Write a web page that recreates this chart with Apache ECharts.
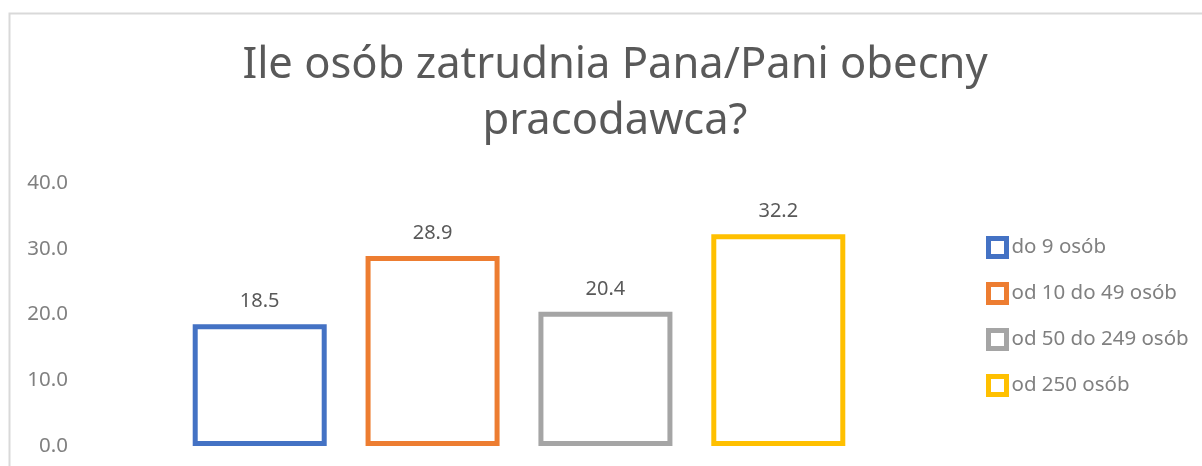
<!DOCTYPE html>
<html>
<head>
<meta charset="utf-8">
<script src="https://cdn.jsdelivr.net/npm/echarts@6/dist/echarts.min.js"></script>
<style>
  html, body { margin: 0; padding: 0; background: #fff; }
  #main { width: 1202px; height: 466px; }
</style>
</head>
<body>
<div id="main"></div>
<script>
// dane z wykresu
var titleText = 'Ile osób zatrudnia Pana/Pani obecny\npracodawca?';
var seriesNames = ['do 9 osób', 'od 10 do 49 osób', 'od 50 do 249 osób', 'od 250 osób'];
var seriesValues = [18.5, 28.9, 20.4, 32.2];
var seriesColors = ['#4472c4', '#ed7d31', '#a5a5a5', '#ffc000'];
var yTicks = [0, 10, 20, 30, 40];

var FONT = 'Noto Sans';
var chart = echarts.init(document.getElementById('main'));

var series = seriesNames.map(function (name, i) {
    return {
        name: name,
        type: 'bar',
        data: [seriesValues[i]],
        barWidth: 134,
        barGap: '29%',
        itemStyle: {
            color: '#ffffff',
            borderColor: seriesColors[i],
            borderWidth: 5
        },
        label: {
            show: true,
            position: 'top',
            distance: 13,
            color: '#595959',
            fontFamily: FONT,
            fontSize: 20,
            formatter: function (p) { return p.value.toFixed(1); }
        }
    };
});

chart.setOption({
    animation: false,
    backgroundColor: '#ffffff',
    title: {
        text: titleText,
        left: 610,
        textAlign: 'center',
        top: 33,
        textStyle: {
            fontFamily: FONT,
            fontWeight: 'normal',
            fontSize: 43.5,
            lineHeight: 56,
            color: '#595959'
        }
    },
    graphic: [{
        type: 'rect',
        shape: { x: 9.5, y: 13.5, width: 1400, height: 700 },
        style: { fill: 'none', stroke: '#d9d9d9', lineWidth: 2 },
        silent: true
    }],
    legend: {
        orient: 'vertical',
        left: 986,
        top: 236,
        padding: 0,
        icon: 'rect',
        itemWidth: 18,
        itemHeight: 18,
        itemGap: 23,
        itemStyle: { borderWidth: 5 },
        textStyle: {
            fontFamily: FONT,
            fontSize: 20.5,
            lineHeight: 22,
            color: '#808080'
        },
        data: seriesNames
    },
    grid: {
        left: 87,
        right: 251,
        top: 183,
        bottom: 20
    },
    xAxis: {
        type: 'category',
        data: [''],
        axisLine: { show: false },
        axisTick: { show: false },
        axisLabel: { show: false }
    },
    yAxis: {
        type: 'value',
        min: yTicks[0],
        max: yTicks[yTicks.length - 1],
        interval: 10,
        splitLine: { show: false },
        axisLine: { show: false },
        axisTick: { show: false },
        axisLabel: {
            margin: 19,
            color: '#808080',
            fontFamily: FONT,
            fontSize: 20.5,
            formatter: function (v) { return v.toFixed(1); }
        }
    },
    series: series
});
</script>
</body>
</html>
